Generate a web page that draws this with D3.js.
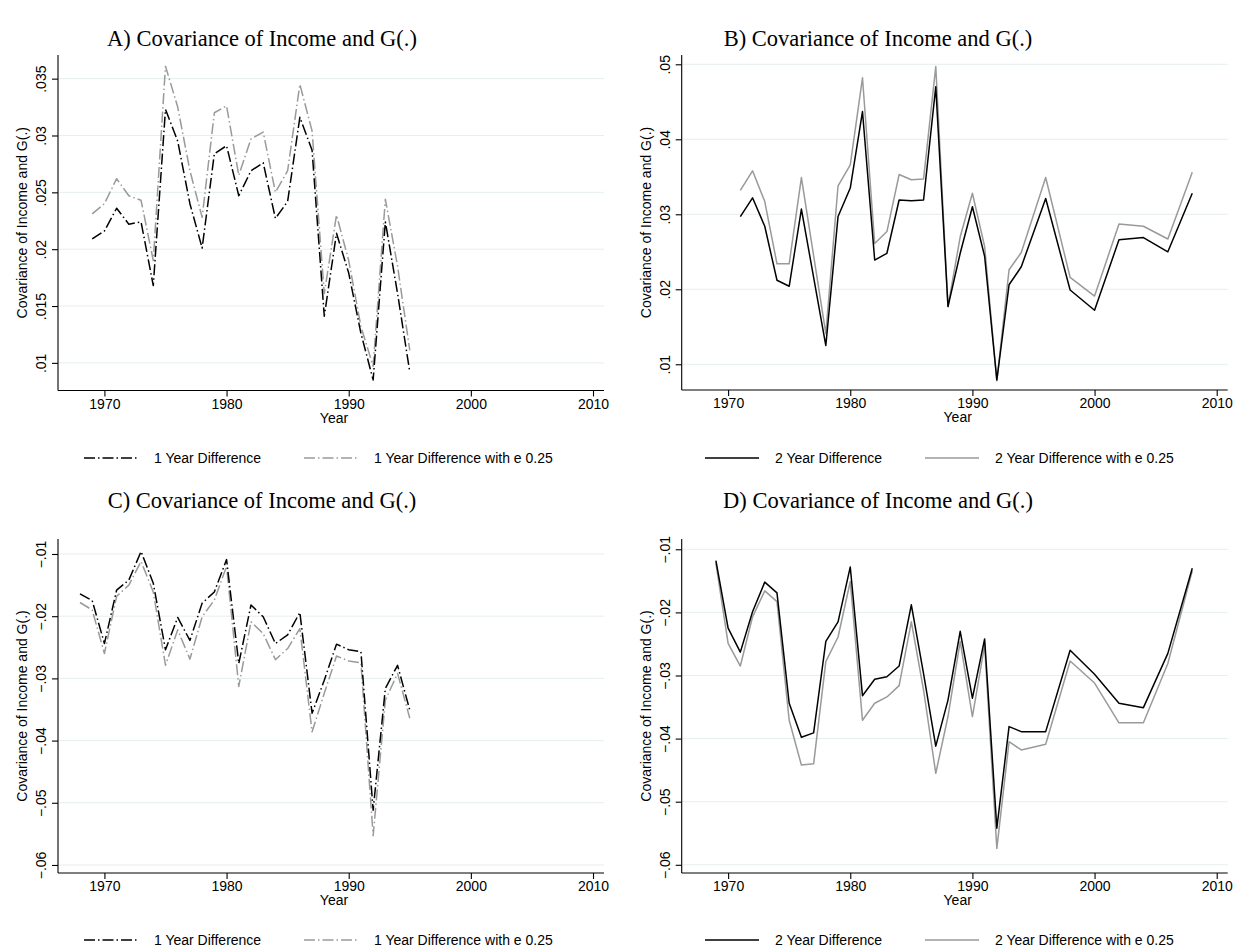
<!DOCTYPE html>
<html>
<head>
<meta charset="utf-8">
<script src="https://cdn.jsdelivr.net/npm/d3@7"></script>
<style>
  html, body { margin: 0; padding: 0; background: #fff; }
  svg { display: block; }
</style>
</head>
<body>
<svg id="chart" width="1245" height="951"></svg>
<script>
// ---- data ----
const yearsA = [1969,1970,1971,1972,1973,1974,1975,1976,1977,1978,1979,1980,1981,1982,1983,1984,1985,1986,1987,1988,1989,1990,1991,1992,1993,1994,1995];
const oneYearA = [.0209,.0216,.0236,.0222,.0224,.0168,.0323,.0295,.0240,.0201,.0284,.0291,.0247,.0269,.0276,.0227,.0242,.0316,.0287,.0141,.0214,.0179,.0126,.0085,.0224,.0161,.0092];
const oneYearEA = [.0231,.0240,.0262,.0247,.0243,.0190,.0361,.0325,.0269,.0228,.0320,.0326,.0265,.0297,.0303,.0250,.0269,.0345,.0304,.0161,.0230,.0190,.0132,.0097,.0244,.0185,.0111];

const yearsB = [1971,1972,1973,1974,1975,1976,1977,1978,1979,1980,1981,1982,1983,1984,1985,1986,1987,1988,1989,1990,1991,1992,1993,1994,1996,1998,2000,2002,2004,2006,2008];
const twoYearB = [.0297,.0322,.0284,.0212,.0204,.0307,.0216,.0125,.0297,.0335,.0437,.0239,.0248,.0319,.0318,.0319,.0470,.0177,.0248,.0310,.0244,.0079,.0206,.0230,.0321,.0199,.0172,.0266,.0269,.0250,.0328];
const twoYearEB = [.0332,.0358,.0317,.0234,.0234,.0349,.0245,.0141,.0338,.0366,.0482,.0261,.0277,.0353,.0346,.0347,.0497,.0177,.0270,.0328,.0257,.0078,.0226,.0249,.0349,.0216,.0191,.0287,.0284,.0267,.0356];

const yearsC = [1968,1969,1970,1971,1972,1973,1974,1975,1976,1977,1978,1979,1980,1981,1982,1983,1984,1985,1986,1987,1988,1989,1990,1991,1992,1993,1994,1995];
const oneYearC = [-.0164,-.0175,-.0244,-.0158,-.0142,-.0096,-.0147,-.0254,-.0202,-.0239,-.0179,-.0161,-.0109,-.0276,-.0182,-.0201,-.0244,-.0230,-.0194,-.0356,-.0303,-.0245,-.0254,-.0257,-.0512,-.0316,-.0279,-.0351];
const oneYearEC = [-.0178,-.0190,-.0260,-.0168,-.0150,-.0112,-.0161,-.0279,-.0222,-.0269,-.0201,-.0174,-.0120,-.0313,-.0209,-.0228,-.0270,-.0252,-.0220,-.0386,-.0324,-.0264,-.0272,-.0275,-.0553,-.0335,-.0292,-.0364];

const yearsD = [1969,1970,1971,1972,1973,1974,1975,1976,1977,1978,1979,1980,1981,1982,1983,1984,1985,1986,1987,1988,1989,1990,1991,1992,1993,1994,1996,1998,2000,2002,2004,2006,2008];
const twoYearD = [-.0118,-.0225,-.0263,-.0199,-.0152,-.0169,-.0344,-.0398,-.0391,-.0246,-.0215,-.0128,-.0332,-.0306,-.0302,-.0285,-.0188,-.0297,-.0412,-.0339,-.0230,-.0336,-.0242,-.0542,-.0381,-.0389,-.0389,-.0260,-.0298,-.0344,-.0351,-.0265,-.0130];
const twoYearED = [-.0122,-.0249,-.0285,-.0207,-.0166,-.0183,-.0371,-.0442,-.0440,-.0278,-.0239,-.0151,-.0371,-.0344,-.0334,-.0316,-.0215,-.0323,-.0455,-.0365,-.0246,-.0365,-.0252,-.0574,-.0405,-.0418,-.0409,-.0277,-.0312,-.0375,-.0375,-.0281,-.0134];

const xTickValues = [1970, 1980, 1990, 2000, 2010];
const yTicksPos1 = [.01, .015, .02, .025, .03, .035];
const yTickLabelsPos1 = [".01", ".015", ".02", ".025", ".03", ".035"];
const yTicksPos2 = [.01, .02, .03, .04, .05];
const yTickLabelsPos2 = [".01", ".02", ".03", ".04", ".05"];
const yTicksNeg = [-.06, -.05, -.04, -.03, -.02, -.01];
const yTickLabelsNeg = ["\u2212.06", "\u2212.05", "\u2212.04", "\u2212.03", "\u2212.02", "\u2212.01"];

const titles = ["A) Covariance of Income and G(.)", "B) Covariance of Income and G(.)",
                "C) Covariance of Income and G(.)", "D) Covariance of Income and G(.)"];
const yAxisTitle = "Covariance of Income and G(.)";
const xAxisTitle = "Year";
const legendOne = ["1 Year Difference", "1 Year Difference with e 0.25"];
const legendTwo = ["2 Year Difference", "2 Year Difference with e 0.25"];

// ---- layout ----
const SANS = "'Liberation Sans', Arial, Helvetica, sans-serif";
const SERIF = "'Liberation Serif', 'Times New Roman', serif";
const BLACK = "#000";
const GREY = "#9a9a9a";
const GRID = "#e6eef0";
const DASH = "11,3,1.5,3";

const panels = [
  { title: titles[0], left: 58, right: 604, top: 55, bottom: 390.5, titleX: 262, titleY: 38,
    yDomain: [.00757, .03708], yTicks: yTicksPos1, yLabels: yTickLabelsPos1,
    years: yearsA, s1: oneYearA, s2: oneYearEA, dashed: true, legend: legendOne,
    legendY: 458, legendX: [84, 304] },
  { title: titles[1], left: 681.7, right: 1227.7, top: 55, bottom: 390, titleX: 878, titleY: 38,
    yDomain: [.00657, .05124], yTicks: yTicksPos2, yLabels: yTickLabelsPos2,
    years: yearsB, s1: twoYearB, s2: twoYearEB, dashed: false, legend: legendTwo,
    legendY: 458, legendX: [705, 925] },
  { title: titles[2], left: 58, right: 604, top: 539, bottom: 873, titleX: 262, titleY: 500,
    yDomain: [-.06129, -.00759], yTicks: yTicksNeg, yLabels: yTickLabelsNeg,
    years: yearsC, s1: oneYearC, s2: oneYearEC, dashed: true, legend: legendOne,
    legendY: 940, legendX: [84, 304] },
  { title: titles[3], left: 681.7, right: 1227.7, top: 539, bottom: 873, titleX: 878, titleY: 500,
    yDomain: [-.0613, -.00837], yTicks: yTicksNeg, yLabels: yTickLabelsNeg,
    years: yearsD, s1: twoYearD, s2: twoYearED, dashed: false, legend: legendTwo,
    legendY: 940, legendX: [705, 925] }
];

const svg = d3.select("#chart");

panels.forEach(p => {
  const g = svg.append("g");
  const x = d3.scaleLinear().domain([1966.2, 2010.9]).range([p.left, p.right]);
  const y = d3.scaleLinear().domain(p.yDomain).range([p.bottom, p.top]);

  // title
  g.append("text").attr("x", p.titleX).attr("y", p.titleY)
    .attr("text-anchor", "middle").attr("dominant-baseline", "central")
    .style("font-family", SERIF).style("font-size", "22.5px").text(p.title);

  // horizontal grid
  g.append("g").selectAll("line").data(p.yTicks).join("line")
    .attr("x1", p.left + 1).attr("x2", p.right)
    .attr("y1", d => y(d)).attr("y2", d => y(d))
    .attr("stroke", GRID).attr("stroke-width", 1);

  // y axis
  const yAxis = d3.axisLeft(y).tickValues(p.yTicks)
    .tickFormat((d, i) => p.yLabels[i]).tickSize(6).tickSizeOuter(0);
  const ya = g.append("g").attr("transform", `translate(${p.left},0)`).call(yAxis);
  ya.select(".domain").attr("stroke", BLACK).attr("stroke-width", 1.1)
    .attr("d", `M0,${p.top}V${p.bottom}`);
  ya.selectAll(".tick line").attr("stroke", BLACK).attr("stroke-width", 1.1);
  ya.selectAll(".tick text")
    .attr("x", 0).attr("dy", null).attr("y", 0)
    .attr("transform", "translate(-17,0) rotate(-90)")
    .attr("text-anchor", "middle").attr("dominant-baseline", "central")
    .style("font-family", SANS).style("font-size", "14px").attr("fill", BLACK);

  // x axis
  const xAxis = d3.axisBottom(x).tickValues(xTickValues)
    .tickFormat(d3.format("d")).tickSize(6).tickSizeOuter(0);
  const xa = g.append("g").attr("transform", `translate(0,${p.bottom})`).call(xAxis);
  xa.select(".domain").attr("stroke", BLACK).attr("stroke-width", 1.1)
    .attr("d", `M${p.left},0H${p.right}`);
  xa.selectAll(".tick line").attr("stroke", BLACK).attr("stroke-width", 1.1);
  xa.selectAll(".tick text").attr("y", 13).attr("dy", null)
    .attr("dominant-baseline", "central")
    .style("font-family", SANS).style("font-size", "14px").attr("fill", BLACK);

  // axis titles
  g.append("text").attr("x", (p.left + p.right) / 2 + 3).attr("y", p.bottom + 27)
    .attr("text-anchor", "middle").attr("dominant-baseline", "central")
    .style("font-family", SANS).style("font-size", "14px").text(xAxisTitle);
  g.append("text")
    .attr("transform", `translate(${p.left - 36},${(p.top + p.bottom) / 2}) rotate(-90)`)
    .attr("text-anchor", "middle").attr("dominant-baseline", "central")
    .style("font-family", SANS).style("font-size", "14px").text(yAxisTitle);

  // series: grey drawn first, black on top
  const line = d3.line().x(d => x(d[0])).y(d => y(d[1]));
  const s1 = p.years.map((yr, i) => [yr, p.s1[i]]);
  const s2 = p.years.map((yr, i) => [yr, p.s2[i]]);
  g.append("path").attr("d", line(s2)).attr("fill", "none")
    .attr("stroke", GREY).attr("stroke-width", 1.5)
    .attr("stroke-dasharray", p.dashed ? DASH : null).attr("stroke-linejoin", "round");
  g.append("path").attr("d", line(s1)).attr("fill", "none")
    .attr("stroke", BLACK).attr("stroke-width", 1.5)
    .attr("stroke-dasharray", p.dashed ? DASH : null).attr("stroke-linejoin", "round");

  // legend
  const colors = [BLACK, GREY];
  p.legend.forEach((lab, i) => {
    const lx = p.legendX[i];
    g.append("line").attr("x1", lx).attr("x2", lx + 54)
      .attr("y1", p.legendY).attr("y2", p.legendY)
      .attr("stroke", colors[i]).attr("stroke-width", 1.5)
      .attr("stroke-dasharray", p.dashed ? DASH : null);
    g.append("text").attr("x", lx + 70).attr("y", p.legendY)
      .attr("dominant-baseline", "central")
      .style("font-family", SANS).style("font-size", "14px").text(lab);
  });
});
</script>
</body>
</html>
